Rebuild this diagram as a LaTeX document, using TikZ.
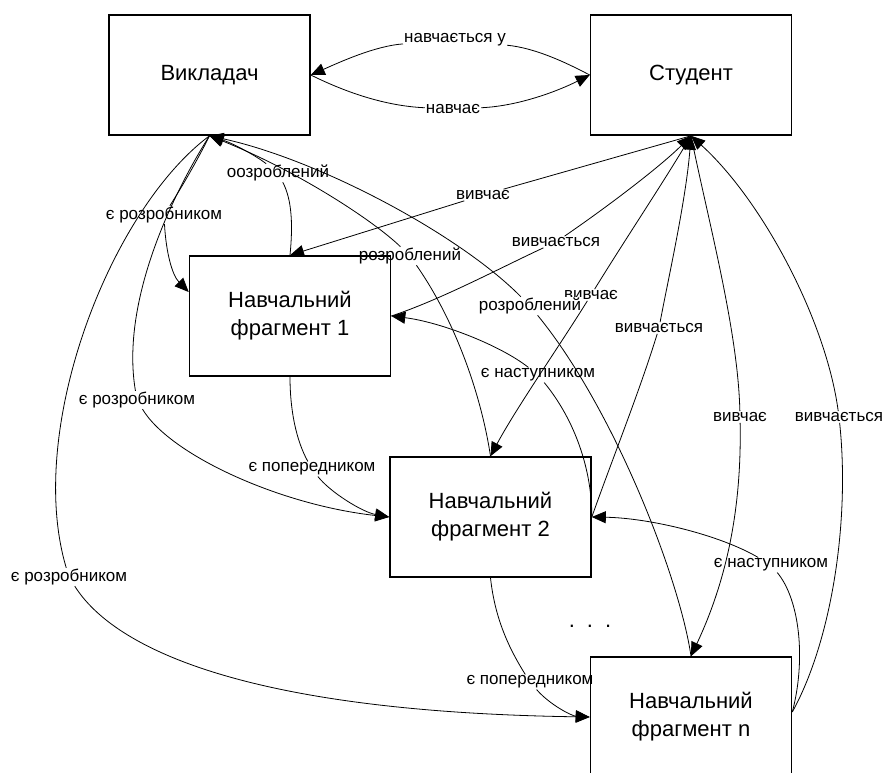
\documentclass[tikz,border=0pt]{standalone}
\usepackage{fontspec}
\setmainfont{Liberation Sans}
\usetikzlibrary{arrows.meta}
\begin{document}
\begin{tikzpicture}[x=1pt,y=1pt,
  box/.style={draw, line width=1.6pt, minimum width=201pt, minimum height=120pt,
    inner sep=0pt, align=center, font=\fontsize{22}{28}\selectfont},
  lbl/.style={inner sep=1pt, font=\fontsize{17}{20}\selectfont},
  wire/.style={line width=0.8pt},
  wirea/.style={line width=0.8pt, -{Triangle[length=14pt,width=12pt]}},
]
\useasboundingbox (0,0) rectangle (883,-773);
\clip (0,0) rectangle (883,-773);

% entities
\node[box] (vyk) at (209.5,-75) {Викладач};
\node[box] (stu) at (691,-75) {Студент};
\node[box] (f1) at (290,-316) {Навчальний\\фрагмент 1};
\node[box] (f2) at (490.5,-517) {Навчальний\\фрагмент 2};
\node[box] (fn) at (691,-717) {Навчальний\\фрагмент n};
\node[font=\fontsize{22}{26}\selectfont] (dots) at (590,-626) {.\hspace{12pt}.\hspace{12pt}.};

% relation labels
\node[lbl] (lnu) at (455,-40) {навчається у};
\node[lbl] (lnv) at (453,-109) {навчає};
\node[lbl] (loz) at (278,-173) {оозроблений};
\node[lbl] (lr2) at (410,-256) {розроблений};
\node[lbl] (lv1) at (483,-195) {вивчає};
\node[lbl] (lvs1) at (556,-242) {вивчається};
\node[lbl] (lv2) at (591,-295) {вивчає};
\node[lbl,fill=white] (lrn) at (530,-306) {розроблений};
\node[lbl] (lvs2) at (659,-328) {вивчається};
\node[lbl] (lns1) at (538,-375) {є наступником};
\node[lbl] (lvn) at (740,-417) {вивчає};
\node[lbl] (lvsn) at (839,-417) {вивчається};
\node[lbl] (lnsn) at (771,-565) {є наступником};
\node[lbl] (lr1) at (164,-215) {є розробником};
\node[lbl] (lrb2) at (137,-400) {є розробником};
\node[lbl] (lrbn) at (69,-577) {є розробником};
\node[lbl] (lp1) at (312,-469) {є попередником};
\node[lbl] (lpn) at (530,-682) {є попередником};

% teacher <-> student
\draw[wire] (stu.west) .. controls (565,-62) and (535,-48) .. (lnu);
\draw[wirea] (lnu) .. controls (375,-46) and (340,-62) .. (vyk.east);
\draw[wire] (vyk.east) .. controls (345,-92) and (385,-106) .. (lnv);
\draw[wirea] (lnv) .. controls (520,-106) and (560,-90) .. (stu.west);

% fragments developed by the teacher
\draw[wire] (f1.north) .. controls (293,-225) and (292,-200) .. (loz);
\draw[wirea] (loz) .. controls (255,-155) and (232,-143) .. (vyk.south);
\draw[wire] (f2.north) .. controls (482,-400) and (458,-325) .. (lr2);
\draw[wirea] (lr2) .. controls (375,-222) and (300,-172) .. (vyk.south);
\draw[wire] (fn.north) .. controls (680,-580) and (615,-410) .. (lrn);
\draw[wirea] (lrn) .. controls (460,-235) and (320,-160) .. (vyk.south);

% student studies fragments
\draw[wire] (stu.south) -- (lv1);
\draw[wirea] (lv1) -- (f1.north);
\draw[wire] (f1.east) .. controls (440,-300) and (500,-268) .. (lvs1);
\draw[wirea] (lvs1) .. controls (610,-205) and (662,-165) .. (stu.south);
\draw[wire] (stu.south) .. controls (665,-180) and (628,-235) .. (lv2);
\draw[wirea] (lv2) .. controls (560,-345) and (515,-410) .. (f2.north);
\draw[wire] (f2.east) .. controls (612,-460) and (640,-390) .. (lvs2);
\draw[wirea] (lvs2) .. controls (668,-280) and (686,-200) .. (stu.south);
\draw[wire] (stu.south) .. controls (708,-220) and (738,-330) .. (lvn);
\draw[wirea] (lvn) .. controls (742,-520) and (722,-590) .. (fn.north);
\draw[wire] ([yshift=5pt]fn.east) .. controls (832,-640) and (850,-520) .. (lvsn);
\draw[wirea] (lvsn) .. controls (826,-320) and (762,-200) .. (stu.south);

% teacher is the developer
\draw[wire] (vyk.south) .. controls (200,-155) and (185,-182) .. (lr1);
\draw[wirea] (lr1) .. controls (166,-252) and (172,-275) .. ([yshift=24pt]f1.west);
\draw[wire] (vyk.south) .. controls (175,-190) and (120,-300) .. (lrb2);
\draw[wirea] (lrb2) .. controls (170,-455) and (280,-505) .. (f2.west);
\draw[wire] (vyk.south) .. controls (110,-210) and (25,-430) .. (lrbn);
\draw[wirea] (lrbn) .. controls (115,-650) and (250,-712) .. (fn.west);

% predecessor links
\draw[wire] (f1.south) .. controls (290,-410) and (296,-440) .. (lp1);
\draw[wirea] (lp1) .. controls (330,-492) and (362,-512) .. (f2.west);
\draw[wire] (f2.south) .. controls (495,-620) and (510,-650) .. (lpn);
\draw[wirea] (lpn) .. controls (550,-705) and (572,-716) .. (fn.west);

% successor links
\draw[wire] (f2.east) .. controls (592,-470) and (575,-420) .. (lns1);
\draw[wirea] (lns1) .. controls (500,-345) and (440,-322) .. (f1.east);
\draw[wire] ([yshift=5pt]fn.east) .. controls (806,-660) and (800,-600) .. (lnsn);
\draw[wirea] (lnsn) .. controls (720,-535) and (650,-518) .. (f2.east);
\end{tikzpicture}
\end{document}
